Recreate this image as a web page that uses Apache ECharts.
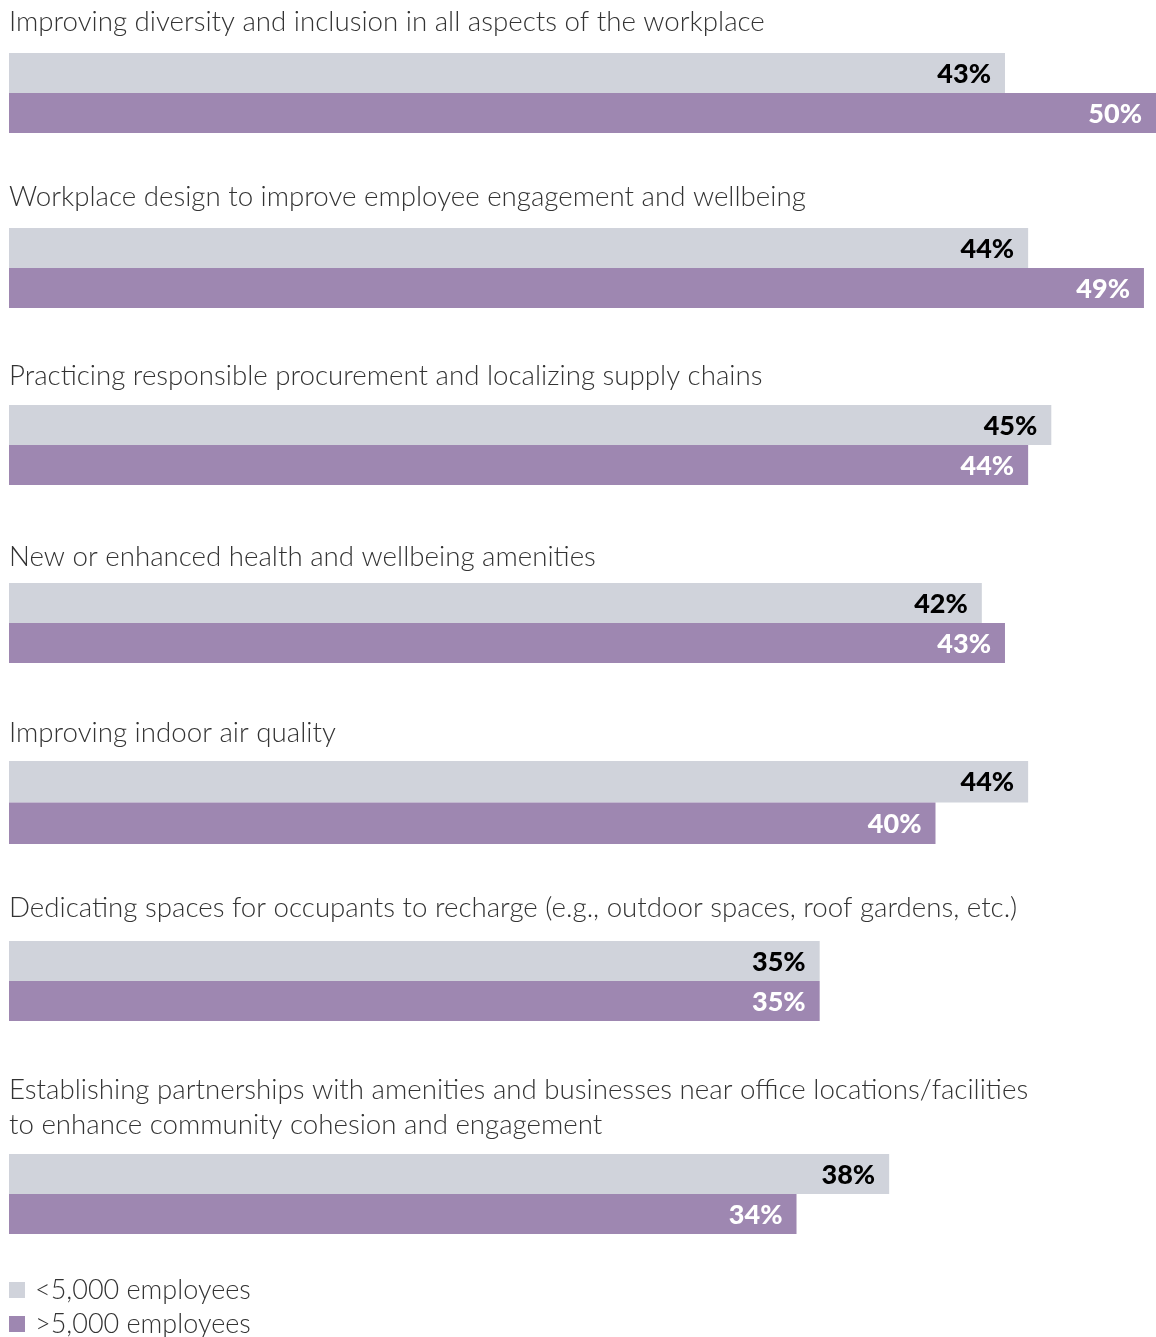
<!DOCTYPE html>
<html>
<head>
<meta charset="utf-8">
<script src="https://cdn.jsdelivr.net/npm/echarts@6/dist/echarts.min.js"></script>
<style>
html,body{margin:0;padding:0;background:#fff;}
#chart{width:1156px;height:1337px;}
</style>
</head>
<body>
<div id="chart"></div>
<script>
const categories = [
  "Improving diversity and inclusion in all aspects of the workplace",
  "Workplace design to improve employee engagement and wellbeing",
  "Practicing responsible procurement and localizing supply chains",
  "New or enhanced health and wellbeing amenities",
  "Improving indoor air quality",
  "Dedicating spaces for occupants to recharge (e.g., outdoor spaces, roof gardens, etc.)",
  "Establishing partnerships with amenities and businesses near office locations/facilities\nto enhance community cohesion and engagement"
];
const seriesNames = ["<5,000 employees", ">5,000 employees"];
const smallCompanies = [43, 44, 45, 42, 44, 35, 38];
const largeCompanies = [50, 49, 44, 43, 40, 35, 34];

// layout (pixels)
const gridTops = [53, 228, 405, 583, 761, 941, 1154];
const gridHeights = [80, 80, 80, 80, 83, 80, 80];
const titleTops = [5, 180, 359, 540, 716, 891, 1073];
const legendTops = [1276, 1310];

const FONT = "Lato";
const grayColor = "#d0d3db";
const purpleColor = "#9e87b1";

const grids = [], xAxes = [], yAxes = [], series = [], titles = [];
categories.forEach((cat, i) => {
  grids.push({ left: 9, right: 0, top: gridTops[i], height: gridHeights[i], containLabel: false });
  xAxes.push({ gridIndex: i, type: "value", min: 0, max: 49.52, show: false });
  yAxes.push({ gridIndex: i, type: "category", data: [cat], inverse: true, show: false });
  titles.push({
    text: cat, left: 9, top: titleTops[i], padding: 0,
    textStyle: { fontFamily: FONT, fontWeight: 300, fontSize: 27.7, color: "#333", lineHeight: 35 }
  });
  series.push({
    name: seriesNames[0], type: "bar", xAxisIndex: i, yAxisIndex: i,
    data: [smallCompanies[i]], barGap: 0, barCategoryGap: 0,
    itemStyle: { color: grayColor },
    label: { show: true, position: "insideRight", distance: 14, formatter: "{c}%",
      fontFamily: FONT, fontWeight: 900, fontSize: 27, color: "#000", offset: [0, 1] },
    silent: true, animation: false
  });
  series.push({
    name: seriesNames[1], type: "bar", xAxisIndex: i, yAxisIndex: i,
    data: [largeCompanies[i]], barGap: 0, barCategoryGap: 0,
    itemStyle: { color: purpleColor },
    label: { show: true, position: "insideRight", distance: 14, formatter: "{c}%",
      fontFamily: FONT, fontWeight: 900, fontSize: 27, color: "#fff", offset: [0, 1] },
    silent: true, animation: false
  });
});

const legends = seriesNames.map((name, k) => ({
  data: [name], orient: "horizontal", left: 9, top: legendTops[k], padding: 0,
  itemWidth: 16, itemHeight: 16, icon: "rect",
  textStyle: { fontFamily: FONT, fontWeight: 300, fontSize: 27, color: "#333", lineHeight: 28, padding: [0, 0, 0, 5] },
  selectedMode: false
}));

const chart = echarts.init(document.getElementById("chart"), null, { renderer: "canvas" });
chart.setOption({
  animation: false,
  title: titles,
  grid: grids,
  xAxis: xAxes,
  yAxis: yAxes,
  legend: legends,
  series: series
});
</script>
</body>
</html>
